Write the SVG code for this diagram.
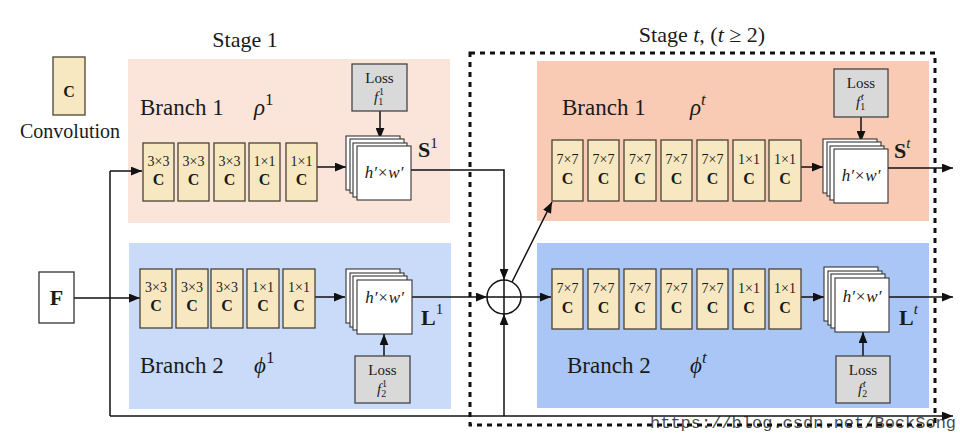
<svg xmlns="http://www.w3.org/2000/svg" width="960" height="440" viewBox="0 0 960 440" font-family="Liberation Serif, serif">
<defs>
<marker id="ah" viewBox="0 0 10 8" refX="10" refY="4" markerWidth="11" markerHeight="9" orient="auto" markerUnits="userSpaceOnUse"><path d="M0,0 L10,4 L0,8 z" fill="#111"/></marker>
<style>
text{fill:#1a1a1a}
.conv{fill:#f8e8c2;stroke:#4a4232;stroke-width:1.3}
.loss{fill:#d9d9d9;stroke:#444;stroke-width:1.3}
.sheet{fill:#fff;stroke:#333;stroke-width:1.1}
.ck{font-size:14px;text-anchor:middle}
.cc{font-size:16px;font-weight:bold;text-anchor:middle}
.lbl{font-size:23px}
.ttl{font-size:22px;text-anchor:middle}
.lt{font-size:15px;text-anchor:middle}
.hw{font-size:17px;font-style:italic;text-anchor:middle}
.out{font-size:22px;font-weight:bold}
.c{fill:none;stroke:#111;stroke-width:1.5}
.ca{fill:none;stroke:#111;stroke-width:1.5;marker-end:url(#ah)}
</style>
</defs>
<rect width="960" height="440" fill="#fff"/>
<!-- panels -->
<rect x="128" y="59" width="322" height="164" fill="#fbe4da"/>
<rect x="129" y="243" width="322" height="166" fill="#c9dbf9"/>
<rect x="537" y="61" width="392" height="160" fill="#f9cbb4"/>
<rect x="537" y="243" width="392" height="165" fill="#aac6f6"/>
<rect x="470" y="53" width="465" height="372" fill="none" stroke="#111" stroke-width="3" stroke-dasharray="5 5"/>
<text class="ttl" x="245" y="47">Stage 1</text>
<text class="ttl" x="702" y="42">Stage <tspan font-style="italic">t</tspan>, (<tspan font-style="italic">t</tspan> ≥ 2)</text>
<text class="lbl" x="140" y="115">Branch 1</text>
<text class="lbl" x="254" y="115" font-style="italic">ρ<tspan font-style="normal" font-size="17" dy="-10">1</tspan></text>
<text class="lbl" x="140" y="373">Branch 2</text>
<text class="lbl" x="254" y="373" font-style="italic">ϕ<tspan font-style="normal" font-size="17" dy="-10">1</tspan></text>
<text class="lbl" x="562" y="115">Branch 1</text>
<text class="lbl" x="690" y="115" font-style="italic">ρ<tspan font-size="17" dy="-10">t</tspan></text>
<text class="lbl" x="567" y="373">Branch 2</text>
<text class="lbl" x="690" y="373" font-style="italic">ϕ<tspan font-size="17" dy="-10">t</tspan></text>
<!-- connectors -->
<g id="connectors">
<path class="ca" d="M74,298 H140"/>
<path class="c" d="M110,416 V171"/>
<path class="ca" d="M110,171 H142"/>
<path class="ca" d="M317,167 H346"/>
<path class="ca" d="M315,297 H345"/>
<path class="ca" d="M380,111 V139"/>
<path class="ca" d="M384,356 V334"/>
<path class="ca" d="M411,170 H504 V280"/>
<path class="ca" d="M412,297 H487"/>
<path class="ca" d="M110,416 H953"/>
<path class="ca" d="M504,416 V314"/>
<path class="ca" d="M512,282 L552,202"/>
<path class="ca" d="M521,297 H551"/>
<path class="ca" d="M801,167 H823"/>
<path class="ca" d="M801,297 H824"/>
<path class="ca" d="M861,117 V142"/>
<path class="ca" d="M863,356 V332"/>
<path class="ca" d="M888,168 H953"/>
<path class="ca" d="M889,297 H953"/>
</g>
<!-- legend -->
<g id="legend">
<rect class="conv" x="53" y="57" width="32" height="58"/>
<text class="cc" x="69" y="97">C</text>
<text x="70" y="138" font-size="20" text-anchor="middle">Convolution</text>
</g>
<g id="F">
<rect x="39" y="272" width="35" height="51" fill="#fff" stroke="#333" stroke-width="1.3"/>
<text x="56.5" y="305" font-size="22" font-weight="bold" text-anchor="middle">F</text>
</g>
<g id="plus">
<circle cx="504" cy="297" r="17" fill="#fff" stroke="#111" stroke-width="1.5"/>
<path d="M487,297 H521 M504,280 V314" stroke="#111" stroke-width="1.5"/>
</g>
<g id="s1b1-convs">
<rect class="conv" x="143" y="143" width="31" height="58"/><text class="ck" x="158.5" y="166">3×3</text><text class="cc" x="158.5" y="185">C</text>
<rect class="conv" x="178" y="143" width="31" height="58"/><text class="ck" x="193.5" y="166">3×3</text><text class="cc" x="193.5" y="185">C</text>
<rect class="conv" x="214" y="143" width="31" height="58"/><text class="ck" x="229.5" y="166">3×3</text><text class="cc" x="229.5" y="185">C</text>
<rect class="conv" x="249" y="143" width="31" height="58"/><text class="ck" x="264.5" y="166">1×1</text><text class="cc" x="264.5" y="185">C</text>
<rect class="conv" x="286" y="143" width="31" height="58"/><text class="ck" x="301.5" y="166">1×1</text><text class="cc" x="301.5" y="185">C</text>
</g>
<g id="s1b2-convs">
<rect class="conv" x="140" y="269" width="32" height="59"/><text class="ck" x="156" y="292">3×3</text><text class="cc" x="156" y="311">C</text>
<rect class="conv" x="176" y="269" width="32" height="59"/><text class="ck" x="192" y="292">3×3</text><text class="cc" x="192" y="311">C</text>
<rect class="conv" x="211" y="269" width="32" height="59"/><text class="ck" x="227" y="292">3×3</text><text class="cc" x="227" y="311">C</text>
<rect class="conv" x="247" y="269" width="32" height="59"/><text class="ck" x="263" y="292">1×1</text><text class="cc" x="263" y="311">C</text>
<rect class="conv" x="283" y="269" width="32" height="59"/><text class="ck" x="299" y="292">1×1</text><text class="cc" x="299" y="311">C</text>
</g>
<g id="stb1-convs">
<rect class="conv" x="552" y="140" width="31" height="61"/><text class="ck" x="567.5" y="164">7×7</text><text class="cc" x="567.5" y="184">C</text>
<rect class="conv" x="588" y="140" width="31" height="61"/><text class="ck" x="603.5" y="164">7×7</text><text class="cc" x="603.5" y="184">C</text>
<rect class="conv" x="624" y="140" width="32" height="61"/><text class="ck" x="640" y="164">7×7</text><text class="cc" x="640" y="184">C</text>
<rect class="conv" x="661" y="140" width="31" height="61"/><text class="ck" x="676.5" y="164">7×7</text><text class="cc" x="676.5" y="184">C</text>
<rect class="conv" x="697" y="140" width="31" height="61"/><text class="ck" x="712.5" y="164">7×7</text><text class="cc" x="712.5" y="184">C</text>
<rect class="conv" x="733" y="140" width="32" height="61"/><text class="ck" x="749" y="164">1×1</text><text class="cc" x="749" y="184">C</text>
<rect class="conv" x="769" y="140" width="32" height="61"/><text class="ck" x="785" y="164">1×1</text><text class="cc" x="785" y="184">C</text>
</g>
<g id="stb2-convs">
<rect class="conv" x="552" y="269" width="31" height="60"/><text class="ck" x="567.5" y="293">7×7</text><text class="cc" x="567.5" y="313">C</text>
<rect class="conv" x="588" y="269" width="31" height="60"/><text class="ck" x="603.5" y="293">7×7</text><text class="cc" x="603.5" y="313">C</text>
<rect class="conv" x="624" y="269" width="32" height="60"/><text class="ck" x="640" y="293">7×7</text><text class="cc" x="640" y="313">C</text>
<rect class="conv" x="661" y="269" width="31" height="60"/><text class="ck" x="676.5" y="293">7×7</text><text class="cc" x="676.5" y="313">C</text>
<rect class="conv" x="697" y="269" width="31" height="60"/><text class="ck" x="712.5" y="293">7×7</text><text class="cc" x="712.5" y="313">C</text>
<rect class="conv" x="733" y="269" width="32" height="60"/><text class="ck" x="749" y="293">1×1</text><text class="cc" x="749" y="313">C</text>
<rect class="conv" x="769" y="269" width="32" height="60"/><text class="ck" x="785" y="293">1×1</text><text class="cc" x="785" y="313">C</text>
</g>
<g id="S1">
<rect class="sheet" x="346" y="136" width="54" height="54"/>
<rect class="sheet" x="350" y="139" width="54" height="54"/>
<rect class="sheet" x="353" y="143" width="54" height="54"/>
<rect class="sheet" x="357" y="146" width="54" height="54"/>
<text class="hw" x="384" y="178">h′×w′</text>
<text class="out" x="418" y="157">S<tspan font-size="15" font-weight="normal" dy="-9">1</tspan></text>
</g>
<g id="L1">
<rect class="sheet" x="346" y="269" width="54" height="54"/>
<rect class="sheet" x="350" y="273" width="54" height="54"/>
<rect class="sheet" x="353" y="276" width="54" height="54"/>
<rect class="sheet" x="357" y="280" width="55" height="54"/>
<text class="hw" x="384.5" y="303">h′×w′</text>
<text class="out" x="421" y="325">L<tspan font-size="15" font-weight="normal" dy="-11">1</tspan></text>
</g>
<g id="St">
<rect class="sheet" x="823" y="139" width="54" height="54"/>
<rect class="sheet" x="827" y="142" width="54" height="54"/>
<rect class="sheet" x="830" y="146" width="54" height="54"/>
<rect class="sheet" x="834" y="149" width="54" height="54"/>
<text class="hw" x="861" y="181">h′×w′</text>
<text class="out" x="894" y="158">S<tspan font-size="15" font-style="italic" font-weight="normal" dy="-10">t</tspan></text>
</g>
<g id="Lt">
<rect class="sheet" x="824" y="267" width="54" height="54"/>
<rect class="sheet" x="828" y="271" width="54" height="54"/>
<rect class="sheet" x="831" y="274" width="54" height="54"/>
<rect class="sheet" x="835" y="278" width="54" height="54"/>
<text class="hw" x="862" y="302">h′×w′</text>
<text class="out" x="899" y="325">L<tspan font-size="15" font-style="italic" font-weight="normal" dy="-11">t</tspan></text>
</g>
<g id="loss-s1b1">
<rect class="loss" x="352" y="64" width="55" height="47"/>
<text class="lt" x="379.5" y="83">Loss</text>
<text x="374" y="102" font-size="15"><tspan font-style="italic">f</tspan><tspan font-size="10" dy="3">1</tspan><tspan font-size="10" x="379" dy="-10">1</tspan></text>
</g>
<g id="loss-s1b2">
<rect class="loss" x="355" y="356" width="55" height="47"/>
<text class="lt" x="382.5" y="375">Loss</text>
<text x="377" y="394" font-size="15"><tspan font-style="italic">f</tspan><tspan font-size="10" dy="3">2</tspan><tspan font-size="10" x="382" dy="-10">1</tspan></text>
</g>
<g id="loss-stb1">
<rect class="loss" x="834" y="69" width="54" height="48"/>
<text class="lt" x="861" y="88">Loss</text>
<text x="856" y="107" font-size="15"><tspan font-style="italic">f</tspan><tspan font-size="10" dy="3">1</tspan><tspan font-size="10" font-style="italic" x="861" dy="-10">t</tspan></text>
</g>
<g id="loss-stb2">
<rect class="loss" x="836" y="356" width="54" height="47"/>
<text class="lt" x="863" y="375">Loss</text>
<text x="858" y="394" font-size="15"><tspan font-style="italic">f</tspan><tspan font-size="10" dy="3">2</tspan><tspan font-size="10" font-style="italic" x="863" dy="-10">t</tspan></text>
</g>
<text x="650" y="428" font-family="Liberation Mono, monospace" font-size="17" fill="#d2d2d2" opacity="0.8">https://blog.csdn.net/BockSong</text>
</svg>
